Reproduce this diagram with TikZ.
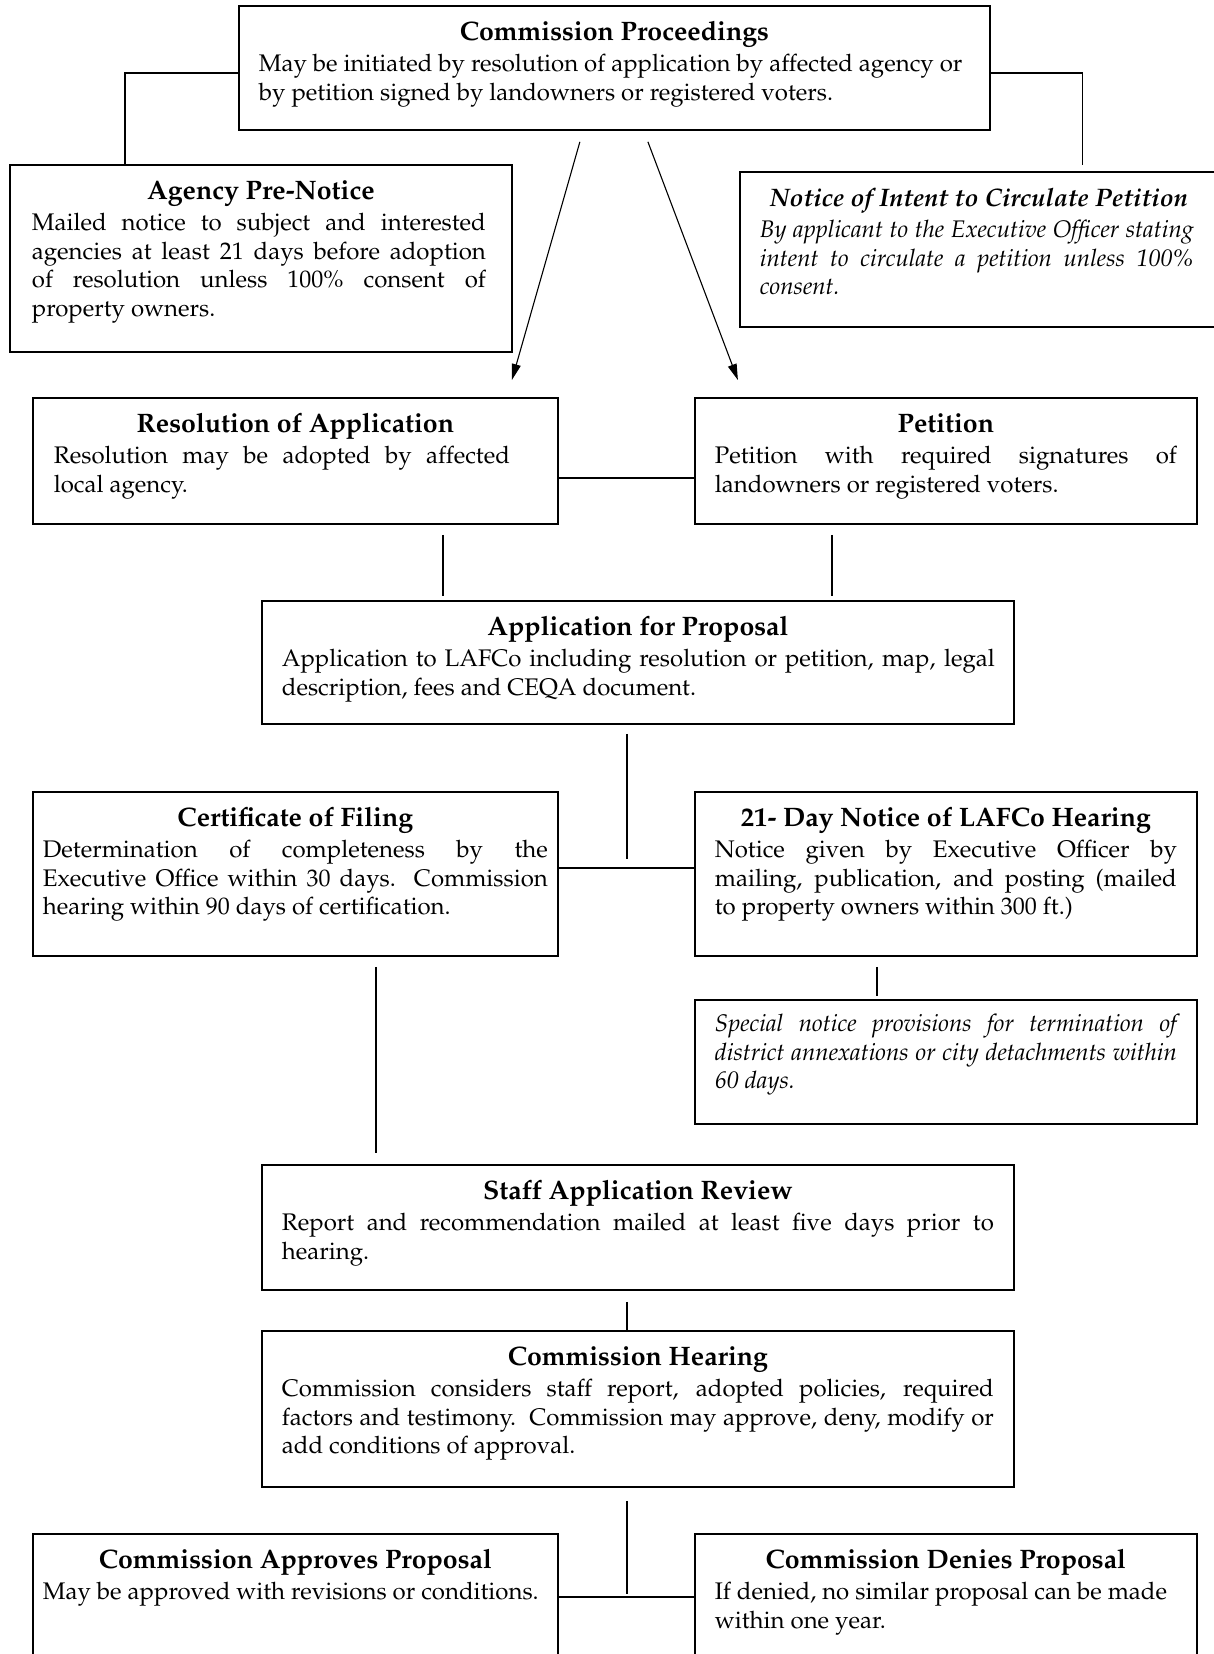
\documentclass[tikz,border=0pt]{standalone}
\usepackage[T1]{fontenc}
\usepackage{mathpazo}
\usetikzlibrary{arrows.meta}

\newcommand{\stagefont}{\fontsize{24}{28.5}\selectfont}
\newcommand{\titlefont}{\fontsize{26.7}{28.5}\selectfont}
% box text: width, height, side pad, title, body
\newcommand{\stagetext}[5]{%
  \parbox[c][#2][t]{#1}{\stagefont\hyphenpenalty=10000 \tolerance=9999
    {\centering\titlefont\bfseries\rule{0pt}{35pt}#4\par}\vspace{2.5pt}%
    \leftskip=#3\relax\rightskip=#3\relax #5\par}}

\begin{document}
\begin{tikzpicture}[x=1pt, y=-1pt,
    stage/.style={draw=black, line width=1.8pt, inner sep=0pt, anchor=north west},
    link/.style={line width=1.3pt, -},
    flow/.style={line width=1.1pt, -{Triangle[length=16pt, width=9pt]}}
]
    \useasboundingbox (0,0) rectangle (1214,1654);
    \clip (0,0) rectangle (1214,1654);

    \node[stage] (proc) at (238,5) {\stagetext{751pt}{124pt}{20pt}{Commission Proceedings}{\rightskip=8pt May be initiated by resolution of application by affected agency or\\ by petition signed by landowners or registered voters.}};
    \node[stage] (agency) at (9,164) {\stagetext{502pt}{187pt}{22pt}{Agency Pre-Notice}{\rightskip=26pt Mailed notice to subject and interested\linebreak agencies at least 21 days before adoption\linebreak of resolution unless 100\% consent of\linebreak property owners.}};
    \node[stage] (notice) at (739,171) {\stagetext{478pt}{155pt}{20pt}{\fontsize{25.3}{28.5}\selectfont\itshape Notice of Intent to Circulate Petition}{\itshape\rightskip=24pt By applicant to the Executive Officer stating\linebreak intent to circulate a petition unless 100\%\linebreak consent.}};
    \node[stage] (res) at (32,397) {\stagetext{525pt}{126pt}{21pt}{Resolution of Application}{\rightskip=48pt Resolution may be adopted by affected\linebreak local agency.}};
    \node[stage] (pet) at (694,397) {\stagetext{502pt}{126pt}{20pt}{Petition}{Petition with required signatures of\linebreak landowners or registered voters.}};
    \node[stage] (app) at (261,600) {\stagetext{752pt}{123pt}{20pt}{Application for Proposal}{\rightskip=19pt Application to LAFCo including resolution or petition, map, legal\linebreak description, fees and CEQA document.}};
    \node[stage] (cert) at (32,791) {\stagetext{525pt}{164pt}{10pt}{Certificate of Filing}{Determination of completeness by the\linebreak Executive Office within 30 days.\ \ Commission\linebreak hearing within 90 days of certification.}};
    \node[stage] (dayn) at (694,791) {\stagetext{502pt}{164pt}{20pt}{21- Day Notice of LAFCo Hearing}{Notice given by Executive Officer by\linebreak mailing, publication, and posting (mailed\linebreak to property owners within 300 ft.)}};
    \node[stage] (special) at (694,999) {\parbox[c][124pt][t]{502pt}{\stagefont\itshape\tolerance=9999 \leftskip=20pt\rightskip=20pt\rule{0pt}{32pt}Special notice provisions for termination of\linebreak district annexations or city detachments within\linebreak 60 days.\par}};
    \node[stage] (staff) at (261,1164) {\stagetext{752pt}{125pt}{20pt}{Staff Application Review}{Report and recommendation mailed at least five days prior to\linebreak hearing.}};
    \node[stage] (hear) at (261,1330) {\stagetext{752pt}{156pt}{20pt}{Commission Hearing}{Commission considers staff report, adopted policies, required\linebreak factors and testimony.\ \ Commission may approve, deny, modify or\linebreak add conditions of approval.}};
    \node[stage] (appr) at (32,1533) {\stagetext{525pt}{200pt}{10pt}{Commission Approves Proposal}{May be approved with revisions or conditions.}};
    \node[stage] (deny) at (694,1533) {\stagetext{502pt}{200pt}{20pt}{Commission Denies Proposal}{If denied, no similar proposal can be made\\ within one year.}};

    % connectors
    \draw[link] ([yshift=-5pt]proc.west) -| ([xshift=-136pt]agency.north);
    \draw[link] ([yshift=-5pt]proc.east) -| ([xshift=103.5pt,yshift=6pt]notice.north);
    \draw[flow] ([xshift=-34.5pt,yshift=-11pt]proc.south) -- ([xshift=216.5pt,yshift=17pt]res.north);
    \draw[flow] ([xshift=33.5pt,yshift=-11pt]proc.south) -- ([xshift=-208pt,yshift=17pt]pet.north);
    \draw[link] ([yshift=-17pt]res.east) -- ([yshift=-17pt]pet.west);
    \draw[link] ([xshift=147.5pt,yshift=-10pt]res.south) -- ++(0,61);
    \draw[link] ([xshift=-114pt,yshift=-10pt]pet.south) -- ++(0,61);
    \draw[link] ([xshift=-11pt,yshift=-9pt]app.south) -- ++(0,125);
    \draw[link] ([yshift=6pt]cert.east) -- ([yshift=6pt]dayn.west);
    \draw[link] ([xshift=-69pt,yshift=-10pt]dayn.south) -- ([xshift=-69pt,yshift=3pt]special.north);
    \draw[link] ([xshift=80.5pt,yshift=-10pt]cert.south) -- ++(0,186);
    \draw[link] ([xshift=-11pt,yshift=-11pt]staff.south) -- ([xshift=-11pt]hear.north);
    \draw[link] ([xshift=-11pt,yshift=-13pt]hear.south) -- ++(0,93);
    \draw[link] ([yshift=-64pt]appr.north east) -- ([yshift=-64pt]deny.north west);
\end{tikzpicture}
\end{document}
